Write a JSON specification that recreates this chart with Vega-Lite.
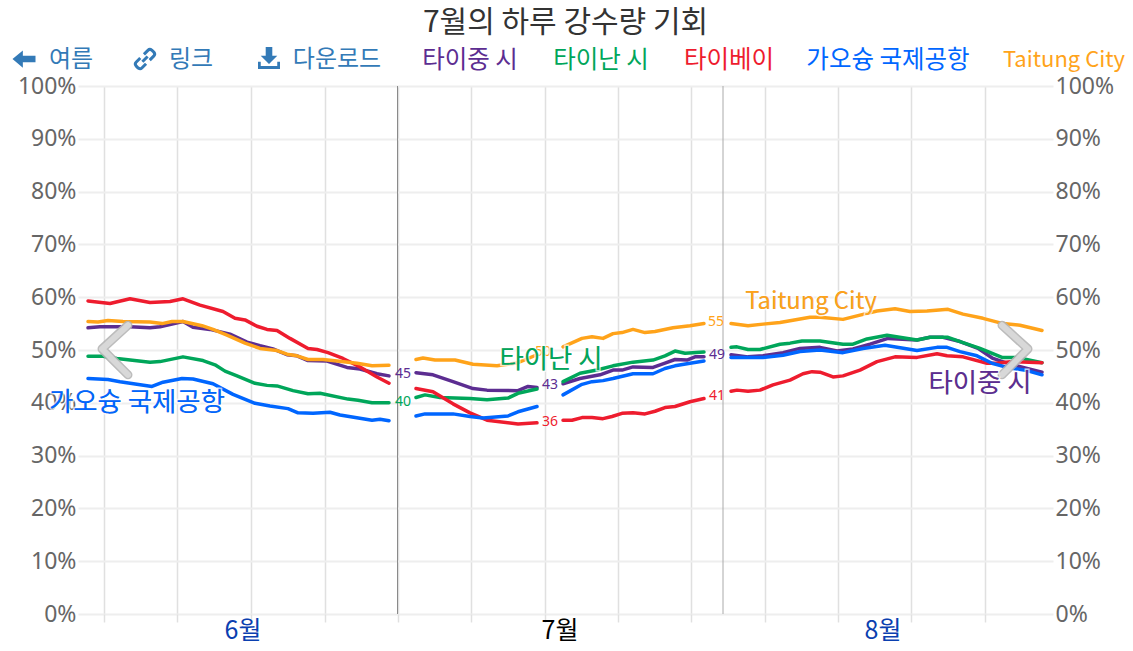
{"$schema":"https://vega.github.io/schema/vega-lite/v6.json","width":975,"height":528,"autosize":"none","padding":{"left":78,"top":86,"right":80,"bottom":37},"background":"white",
"title":{"text":"7월의 하루 강수량 기회","font":"Noto Sans CJK KR","fontSize":30,"fontWeight":"normal","color":"#333333","anchor":"middle","offset":5},
"config":{"view":{"stroke":null}},
"datasets":{
"series":[
{"c":"타이중 시","g":1,"d":1.0,"v":54.2},{"c":"타이중 시","g":1,"d":2.2,"v":54.4},{"c":"타이중 시","g":1,"d":5.2,"v":54.4},{"c":"타이중 시","g":1,"d":7.2,"v":54.2},{"c":"타이중 시","g":1,"d":8.2,"v":54.4},{"c":"타이중 시","g":1,"d":10.5,"v":55.4},{"c":"타이중 시","g":1,"d":11.5,"v":54.3},{"c":"타이중 시","g":1,"d":13.2,"v":53.9},{"c":"타이중 시","g":1,"d":15.2,"v":53.0},{"c":"타이중 시","g":1,"d":16.9,"v":51.5},{"c":"타이중 시","g":1,"d":18.2,"v":50.8},{"c":"타이중 시","g":1,"d":19.5,"v":50.2},{"c":"타이중 시","g":1,"d":20.9,"v":49.1},{"c":"타이중 시","g":1,"d":21.9,"v":48.9},{"c":"타이중 시","g":1,"d":23.0,"v":48.0},{"c":"타이중 시","g":1,"d":24.9,"v":47.9},{"c":"타이중 시","g":1,"d":26.9,"v":46.7},{"c":"타이중 시","g":1,"d":28.2,"v":46.4},{"c":"타이중 시","g":1,"d":29.9,"v":45.5},{"c":"타이중 시","g":1,"d":31.1,"v":45.1},
{"c":"타이중 시","g":2,"d":33.8,"v":45.7},{"c":"타이중 시","g":2,"d":35.5,"v":45.3},{"c":"타이중 시","g":2,"d":37.5,"v":44.0},{"c":"타이중 시","g":2,"d":39.5,"v":42.7},{"c":"타이중 시","g":2,"d":40.9,"v":42.4},{"c":"타이중 시","g":2,"d":44.0,"v":42.3},{"c":"타이중 시","g":2,"d":45.0,"v":43.1},{"c":"타이중 시","g":2,"d":45.9,"v":42.9},
{"c":"타이중 시","g":3,"d":48.5,"v":43.6},{"c":"타이중 시","g":3,"d":50.2,"v":44.6},{"c":"타이중 시","g":3,"d":52.2,"v":45.3},{"c":"타이중 시","g":3,"d":53.5,"v":46.2},{"c":"타이중 시","g":3,"d":54.4,"v":46.2},{"c":"타이중 시","g":3,"d":55.5,"v":46.8},{"c":"타이중 시","g":3,"d":57.5,"v":46.7},{"c":"타이중 시","g":3,"d":58.7,"v":47.5},{"c":"타이중 시","g":3,"d":59.7,"v":48.2},{"c":"타이중 시","g":3,"d":60.9,"v":48.1},{"c":"타이중 시","g":3,"d":61.7,"v":48.7},{"c":"타이중 시","g":3,"d":62.6,"v":48.7},
{"c":"타이중 시","g":4,"d":65.3,"v":49.1},{"c":"타이중 시","g":4,"d":67.0,"v":48.7},{"c":"타이중 시","g":4,"d":68.5,"v":48.9},{"c":"타이중 시","g":4,"d":70.5,"v":49.5},{"c":"타이중 시","g":4,"d":72.2,"v":50.3},{"c":"타이중 시","g":4,"d":74.2,"v":50.5},{"c":"타이중 시","g":4,"d":75.9,"v":49.8},{"c":"타이중 시","g":4,"d":77.5,"v":50.2},{"c":"타이중 시","g":4,"d":79.2,"v":51.1},{"c":"타이중 시","g":4,"d":81.0,"v":52.2},{"c":"타이중 시","g":4,"d":83.9,"v":51.9},{"c":"타이중 시","g":4,"d":85.2,"v":52.4},{"c":"타이중 시","g":4,"d":86.5,"v":52.4},{"c":"타이중 시","g":4,"d":88.2,"v":51.6},{"c":"타이중 시","g":4,"d":90.0,"v":50.3},{"c":"타이중 시","g":4,"d":91.5,"v":48.4},{"c":"타이중 시","g":4,"d":92.9,"v":47.5},{"c":"타이중 시","g":4,"d":94.9,"v":46.5},{"c":"타이중 시","g":4,"d":96.4,"v":45.8},

{"c":"타이난 시","g":1,"d":1.0,"v":48.8},{"c":"타이난 시","g":1,"d":2.5,"v":48.8},{"c":"타이난 시","g":1,"d":3.9,"v":48.4},{"c":"타이난 시","g":1,"d":7.2,"v":47.7},{"c":"타이난 시","g":1,"d":8.2,"v":47.8},{"c":"타이난 시","g":1,"d":10.5,"v":48.7},{"c":"타이난 시","g":1,"d":12.5,"v":48.0},{"c":"타이난 시","g":1,"d":13.7,"v":47.2},{"c":"타이난 시","g":1,"d":14.7,"v":46.0},{"c":"타이난 시","g":1,"d":15.9,"v":45.1},{"c":"타이난 시","g":1,"d":17.7,"v":43.7},{"c":"타이난 시","g":1,"d":18.9,"v":43.3},{"c":"타이난 시","g":1,"d":19.9,"v":43.2},{"c":"타이난 시","g":1,"d":21.5,"v":42.3},{"c":"타이난 시","g":1,"d":23.0,"v":41.7},{"c":"타이난 시","g":1,"d":24.2,"v":41.8},{"c":"타이난 시","g":1,"d":27.0,"v":40.7},{"c":"타이난 시","g":1,"d":28.0,"v":40.5},{"c":"타이난 시","g":1,"d":29.4,"v":40.0},{"c":"타이난 시","g":1,"d":31.1,"v":40.0},
{"c":"타이난 시","g":2,"d":33.8,"v":41.0},{"c":"타이난 시","g":2,"d":34.7,"v":41.5},{"c":"타이난 시","g":2,"d":36.2,"v":41.0},{"c":"타이난 시","g":2,"d":39.2,"v":40.8},{"c":"타이난 시","g":2,"d":40.9,"v":40.6},{"c":"타이난 시","g":2,"d":43.0,"v":40.9},{"c":"타이난 시","g":2,"d":44.0,"v":41.8},{"c":"타이난 시","g":2,"d":45.9,"v":42.6},
{"c":"타이난 시","g":3,"d":48.5,"v":44.0},{"c":"타이난 시","g":3,"d":50.2,"v":45.6},{"c":"타이난 시","g":3,"d":51.9,"v":46.2},{"c":"타이난 시","g":3,"d":53.5,"v":47.0},{"c":"타이난 시","g":3,"d":55.5,"v":47.7},{"c":"타이난 시","g":3,"d":57.5,"v":48.1},{"c":"타이난 시","g":3,"d":58.7,"v":48.9},{"c":"타이난 시","g":3,"d":59.7,"v":49.8},{"c":"타이난 시","g":3,"d":60.7,"v":49.4},{"c":"타이난 시","g":3,"d":62.6,"v":49.6},
{"c":"타이난 시","g":4,"d":65.3,"v":50.5},{"c":"타이난 시","g":4,"d":65.9,"v":50.6},{"c":"타이난 시","g":4,"d":67.0,"v":50.1},{"c":"타이난 시","g":4,"d":68.2,"v":50.1},{"c":"타이난 시","g":4,"d":70.2,"v":51.1},{"c":"타이난 시","g":4,"d":71.2,"v":51.3},{"c":"타이난 시","g":4,"d":72.4,"v":51.7},{"c":"타이난 시","g":4,"d":74.2,"v":51.7},{"c":"타이난 시","g":4,"d":76.5,"v":51.1},{"c":"타이난 시","g":4,"d":77.5,"v":51.1},{"c":"타이난 시","g":4,"d":78.9,"v":52.1},{"c":"타이난 시","g":4,"d":80.9,"v":52.8},{"c":"타이난 시","g":4,"d":83.9,"v":51.9},{"c":"타이난 시","g":4,"d":85.2,"v":52.4},{"c":"타이난 시","g":4,"d":87.0,"v":52.4},{"c":"타이난 시","g":4,"d":88.5,"v":51.4},{"c":"타이난 시","g":4,"d":90.2,"v":50.3},{"c":"타이난 시","g":4,"d":92.4,"v":48.6},{"c":"타이난 시","g":4,"d":93.9,"v":48.6},{"c":"타이난 시","g":4,"d":96.4,"v":47.6},

{"c":"타이베이","g":1,"d":1.0,"v":59.3},{"c":"타이베이","g":1,"d":3.2,"v":58.8},{"c":"타이베이","g":1,"d":5.2,"v":59.7},{"c":"타이베이","g":1,"d":7.2,"v":59.0},{"c":"타이베이","g":1,"d":9.2,"v":59.2},{"c":"타이베이","g":1,"d":10.5,"v":59.7},{"c":"타이베이","g":1,"d":12.2,"v":58.5},{"c":"타이베이","g":1,"d":14.5,"v":57.3},{"c":"타이베이","g":1,"d":15.7,"v":56.0},{"c":"타이베이","g":1,"d":16.7,"v":55.7},{"c":"타이베이","g":1,"d":17.9,"v":54.5},{"c":"타이베이","g":1,"d":18.9,"v":53.9},{"c":"타이베이","g":1,"d":19.9,"v":53.7},{"c":"타이베이","g":1,"d":21.2,"v":52.2},{"c":"타이베이","g":1,"d":23.0,"v":50.3},{"c":"타이베이","g":1,"d":23.9,"v":50.1},{"c":"타이베이","g":1,"d":25.0,"v":49.5},{"c":"타이베이","g":1,"d":26.5,"v":48.4},{"c":"타이베이","g":1,"d":28.2,"v":46.8},{"c":"타이베이","g":1,"d":29.9,"v":44.9},{"c":"타이베이","g":1,"d":31.1,"v":43.7},
{"c":"타이베이","g":2,"d":33.8,"v":42.7},{"c":"타이베이","g":2,"d":35.5,"v":42.1},{"c":"타이베이","g":2,"d":37.5,"v":39.8},{"c":"타이베이","g":2,"d":39.2,"v":38.1},{"c":"타이베이","g":2,"d":40.9,"v":36.7},{"c":"타이베이","g":2,"d":44.0,"v":36.0},{"c":"타이베이","g":2,"d":45.9,"v":36.2},
{"c":"타이베이","g":3,"d":48.5,"v":36.7},{"c":"타이베이","g":3,"d":49.4,"v":36.7},{"c":"타이베이","g":3,"d":50.4,"v":37.2},{"c":"타이베이","g":3,"d":51.4,"v":37.2},{"c":"타이베이","g":3,"d":52.5,"v":37.0},{"c":"타이베이","g":3,"d":53.4,"v":37.4},{"c":"타이베이","g":3,"d":54.4,"v":38.0},{"c":"타이베이","g":3,"d":55.5,"v":38.1},{"c":"타이베이","g":3,"d":56.7,"v":37.9},{"c":"타이베이","g":3,"d":57.7,"v":38.4},{"c":"타이베이","g":3,"d":58.7,"v":39.1},{"c":"타이베이","g":3,"d":59.7,"v":39.3},{"c":"타이베이","g":3,"d":61.2,"v":40.2},{"c":"타이베이","g":3,"d":62.6,"v":40.8},
{"c":"타이베이","g":4,"d":65.3,"v":42.2},{"c":"타이베이","g":4,"d":65.9,"v":42.4},{"c":"타이베이","g":4,"d":67.0,"v":42.2},{"c":"타이베이","g":4,"d":68.2,"v":42.4},{"c":"타이베이","g":4,"d":69.5,"v":43.4},{"c":"타이베이","g":4,"d":71.2,"v":44.3},{"c":"타이베이","g":4,"d":72.5,"v":45.5},{"c":"타이베이","g":4,"d":73.4,"v":45.9},{"c":"타이베이","g":4,"d":74.2,"v":45.8},{"c":"타이베이","g":4,"d":75.5,"v":44.9},{"c":"타이베이","g":4,"d":76.5,"v":45.1},{"c":"타이베이","g":4,"d":78.2,"v":46.2},{"c":"타이베이","g":4,"d":79.9,"v":47.8},{"c":"타이베이","g":4,"d":81.7,"v":48.7},{"c":"타이베이","g":4,"d":83.9,"v":48.6},{"c":"타이베이","g":4,"d":85.9,"v":49.3},{"c":"타이베이","g":4,"d":86.9,"v":48.9},{"c":"타이베이","g":4,"d":88.5,"v":48.7},{"c":"타이베이","g":4,"d":90.9,"v":47.5},{"c":"타이베이","g":4,"d":91.9,"v":47.5},{"c":"타이베이","g":4,"d":93.5,"v":47.8},{"c":"타이베이","g":4,"d":96.4,"v":47.6},

{"c":"가오슝 국제공항","g":1,"d":1.0,"v":44.6},{"c":"가오슝 국제공항","g":1,"d":3.0,"v":44.4},{"c":"가오슝 국제공항","g":1,"d":4.2,"v":44.0},{"c":"가오슝 국제공항","g":1,"d":7.4,"v":43.1},{"c":"가오슝 국제공항","g":1,"d":8.5,"v":43.9},{"c":"가오슝 국제공항","g":1,"d":10.4,"v":44.6},{"c":"가오슝 국제공항","g":1,"d":11.5,"v":44.5},{"c":"가오슝 국제공항","g":1,"d":13.5,"v":43.6},{"c":"가오슝 국제공항","g":1,"d":15.5,"v":41.6},{"c":"가오슝 국제공항","g":1,"d":17.7,"v":39.9},{"c":"가오슝 국제공항","g":1,"d":19.2,"v":39.4},{"c":"가오슝 국제공항","g":1,"d":21.0,"v":38.9},{"c":"가오슝 국제공항","g":1,"d":22.0,"v":38.1},{"c":"가오슝 국제공항","g":1,"d":23.5,"v":38.0},{"c":"가오슝 국제공항","g":1,"d":25.2,"v":38.2},{"c":"가오슝 국제공항","g":1,"d":26.2,"v":37.7},{"c":"가오슝 국제공항","g":1,"d":29.4,"v":36.7},{"c":"가오슝 국제공항","g":1,"d":30.2,"v":36.9},{"c":"가오슝 국제공항","g":1,"d":31.1,"v":36.6},
{"c":"가오슝 국제공항","g":2,"d":33.8,"v":37.5},{"c":"가오슝 국제공항","g":2,"d":34.7,"v":37.9},{"c":"가오슝 국제공항","g":2,"d":37.5,"v":37.9},{"c":"가오슝 국제공항","g":2,"d":39.2,"v":37.4},{"c":"가오슝 국제공항","g":2,"d":40.5,"v":37.1},{"c":"가오슝 국제공항","g":2,"d":43.0,"v":37.5},{"c":"가오슝 국제공항","g":2,"d":44.0,"v":38.3},{"c":"가오슝 국제공항","g":2,"d":45.9,"v":39.3},
{"c":"가오슝 국제공항","g":3,"d":48.5,"v":41.5},{"c":"가오슝 국제공항","g":3,"d":50.4,"v":43.5},{"c":"가오슝 국제공항","g":3,"d":51.4,"v":44.0},{"c":"가오슝 국제공항","g":3,"d":52.5,"v":44.2},{"c":"가오슝 국제공항","g":3,"d":53.5,"v":44.6},{"c":"가오슝 국제공항","g":3,"d":55.5,"v":45.5},{"c":"가오슝 국제공항","g":3,"d":57.5,"v":45.5},{"c":"가오슝 국제공항","g":3,"d":58.7,"v":46.5},{"c":"가오슝 국제공항","g":3,"d":59.7,"v":47.0},{"c":"가오슝 국제공항","g":3,"d":61.2,"v":47.5},{"c":"가오슝 국제공항","g":3,"d":62.6,"v":47.9},
{"c":"가오슝 국제공항","g":4,"d":65.3,"v":48.6},{"c":"가오슝 국제공항","g":4,"d":67.0,"v":48.6},{"c":"가오슝 국제공항","g":4,"d":68.5,"v":48.6},{"c":"가오슝 국제공항","g":4,"d":70.5,"v":49.0},{"c":"가오슝 국제공항","g":4,"d":72.2,"v":49.7},{"c":"가오슝 국제공항","g":4,"d":74.2,"v":50.0},{"c":"가오슝 국제공항","g":4,"d":76.5,"v":49.5},{"c":"가오슝 국제공항","g":4,"d":78.5,"v":50.3},{"c":"가오슝 국제공항","g":4,"d":80.7,"v":50.9},{"c":"가오슝 국제공항","g":4,"d":83.9,"v":49.9},{"c":"가오슝 국제공항","g":4,"d":85.9,"v":50.5},{"c":"가오슝 국제공항","g":4,"d":86.9,"v":50.5},{"c":"가오슝 국제공항","g":4,"d":88.2,"v":49.7},{"c":"가오슝 국제공항","g":4,"d":89.9,"v":48.9},{"c":"가오슝 국제공항","g":4,"d":91.4,"v":47.5},{"c":"가오슝 국제공항","g":4,"d":92.9,"v":46.7},{"c":"가오슝 국제공항","g":4,"d":94.9,"v":46.1},{"c":"가오슝 국제공항","g":4,"d":96.4,"v":45.3},

{"c":"Taitung City","g":1,"d":1.0,"v":55.4},{"c":"Taitung City","g":1,"d":2.0,"v":55.3},{"c":"Taitung City","g":1,"d":3.0,"v":55.6},{"c":"Taitung City","g":1,"d":4.5,"v":55.4},{"c":"Taitung City","g":1,"d":7.2,"v":55.3},{"c":"Taitung City","g":1,"d":8.4,"v":55.0},{"c":"Taitung City","g":1,"d":9.4,"v":55.4},{"c":"Taitung City","g":1,"d":10.5,"v":55.4},{"c":"Taitung City","g":1,"d":12.4,"v":54.6},{"c":"Taitung City","g":1,"d":13.5,"v":53.9},{"c":"Taitung City","g":1,"d":14.9,"v":52.8},{"c":"Taitung City","g":1,"d":16.7,"v":51.3},{"c":"Taitung City","g":1,"d":18.2,"v":50.3},{"c":"Taitung City","g":1,"d":19.9,"v":49.9},{"c":"Taitung City","g":1,"d":20.9,"v":49.2},{"c":"Taitung City","g":1,"d":21.9,"v":48.9},{"c":"Taitung City","g":1,"d":23.0,"v":48.2},{"c":"Taitung City","g":1,"d":24.5,"v":48.2},{"c":"Taitung City","g":1,"d":25.9,"v":47.9},{"c":"Taitung City","g":1,"d":27.9,"v":47.5},{"c":"Taitung City","g":1,"d":29.4,"v":47.0},{"c":"Taitung City","g":1,"d":31.1,"v":47.1},
{"c":"Taitung City","g":2,"d":33.8,"v":48.2},{"c":"Taitung City","g":2,"d":34.5,"v":48.5},{"c":"Taitung City","g":2,"d":35.7,"v":48.1},{"c":"Taitung City","g":2,"d":37.7,"v":48.1},{"c":"Taitung City","g":2,"d":39.5,"v":47.3},{"c":"Taitung City","g":2,"d":41.9,"v":47.0},{"c":"Taitung City","g":2,"d":44.0,"v":47.6},{"c":"Taitung City","g":2,"d":45.9,"v":49.1},
{"c":"Taitung City","g":3,"d":48.5,"v":50.6},{"c":"Taitung City","g":3,"d":50.4,"v":52.2},{"c":"Taitung City","g":3,"d":51.4,"v":52.5},{"c":"Taitung City","g":3,"d":52.5,"v":52.2},{"c":"Taitung City","g":3,"d":53.5,"v":53.1},{"c":"Taitung City","g":3,"d":54.4,"v":53.3},{"c":"Taitung City","g":3,"d":55.5,"v":53.9},{"c":"Taitung City","g":3,"d":56.7,"v":53.3},{"c":"Taitung City","g":3,"d":57.7,"v":53.5},{"c":"Taitung City","g":3,"d":59.5,"v":54.2},{"c":"Taitung City","g":3,"d":61.2,"v":54.6},{"c":"Taitung City","g":3,"d":62.6,"v":55.0},
{"c":"Taitung City","g":4,"d":65.3,"v":55.0},{"c":"Taitung City","g":4,"d":67.0,"v":54.6},{"c":"Taitung City","g":4,"d":68.5,"v":54.9},{"c":"Taitung City","g":4,"d":70.2,"v":55.2},{"c":"Taitung City","g":4,"d":73.2,"v":56.2},{"c":"Taitung City","g":4,"d":74.2,"v":56.2},{"c":"Taitung City","g":4,"d":76.5,"v":55.8},{"c":"Taitung City","g":4,"d":78.2,"v":56.6},{"c":"Taitung City","g":4,"d":79.9,"v":57.4},{"c":"Taitung City","g":4,"d":81.7,"v":57.8},{"c":"Taitung City","g":4,"d":83.2,"v":57.3},{"c":"Taitung City","g":4,"d":84.9,"v":57.4},{"c":"Taitung City","g":4,"d":87.0,"v":57.7},{"c":"Taitung City","g":4,"d":88.5,"v":56.8},{"c":"Taitung City","g":4,"d":90.5,"v":56.0},{"c":"Taitung City","g":4,"d":92.5,"v":55.0},{"c":"Taitung City","g":4,"d":94.2,"v":54.7},{"c":"Taitung City","g":4,"d":96.4,"v":53.7}
],
"cityLabels":[{"c":"타이중 시","d":39.2,"v":104.8,"k":"head"},{"c":"타이난 시","d":52.3,"v":104.8,"k":"head"},{"c":"타이베이","d":65.1,"v":104.8,"k":"head"},{"c":"가오슝 국제공항","d":81.0,"v":104.8,"k":"head"},{"c":"Taitung City","d":98.6,"v":105.0,"k":"head"},
{"c":"가오슝 국제공항","d":5.9,"v":40.0,"k":"inline"},{"c":"타이난 시","d":47.3,"v":48.2,"k":"inline"},{"c":"Taitung City","d":73.3,"v":59.1,"k":"inline"},{"c":"타이중 시","d":90.2,"v":43.6,"k":"inline"}],
"ends":[{"c":"타이중 시","d":32.5,"v":45.5,"n":45},{"c":"타이난 시","d":32.5,"v":40.2,"n":40},{"c":"타이중 시","d":47.2,"v":43.4,"n":43},{"c":"타이베이","d":47.2,"v":36.4,"n":36},{"c":"Taitung City","d":46.5,"v":49.6,"n":50},{"c":"Taitung City","d":63.8,"v":55.3,"n":55},{"c":"타이중 시","d":63.9,"v":49.1,"n":49},{"c":"타이베이","d":63.9,"v":41.3,"n":41}],
"nav":[{"t":"여름","d":-0.7,"v":104.9},{"t":"링크","d":11.3,"v":104.9},{"t":"다운로드","d":25.9,"v":104.9}],
"months":[{"t":"6월","d":16.5,"v":-3.3},{"t":"7월","d":48.2,"v":-3.3},{"t":"8월","d":80.5,"v":-3.3}],
"chev":[{"s":"L","o":1,"d":5.0,"v":54.7},{"s":"L","o":2,"d":2.4,"v":50.2},{"s":"L","o":3,"d":5.0,"v":45.3},{"s":"R","o":1,"d":92.4,"v":54.7},{"s":"R","o":2,"d":95.0,"v":50.2},{"s":"R","o":3,"d":92.4,"v":45.3}],
"seps":[{"d":31.95,"k":"a","lo":0,"hi":100},{"d":64.5,"k":"b","lo":0,"hi":100}]
},
"encoding":{
"x":{"field":"d","type":"quantitative","scale":{"domain":[0,97.5],"nice":false,"zero":false},"title":null,"axis":{"values":[2.6,9.95,17.3,24.65,31.95,39.3,46.65,54,61.3,68.65,76,83.3,90.65],"labels":false,"domain":false,"grid":true,"gridColor":"#e0e0e0","gridWidth":1.5,"tickColor":"#e0e0e0","tickWidth":1.5,"tickSize":8,"zindex":0}},
"y":{"field":"v","type":"quantitative","scale":{"domain":[0,100],"nice":false},"title":null,"axis":null}
},
"layer":[
{"data":{"name":"series"},"mark":{"type":"line","opacity":0},
"encoding":{"y":{"field":"v","type":"quantitative","title":null,"scale":{"domain":[0,100],"nice":false},"axis":{"orient":"left","values":[0,10,20,30,40,50,60,70,80,90,100],"labelExpr":"datum.value+'%'","labelFont":"Noto Sans","labelFontSize":23,"labelColor":"#666666","labelPadding":2,"ticks":false,"domain":false,"grid":true,"gridColor":"#eeeeee","gridWidth":2,"zindex":0}}}},
{"data":{"name":"series"},"mark":{"type":"line","opacity":0},
"encoding":{"y":{"field":"v","type":"quantitative","title":null,"scale":{"domain":[0,100],"nice":false},"axis":{"orient":"right","values":[0,10,20,30,40,50,60,70,80,90,100],"labelExpr":"datum.value+'%'","labelFont":"Noto Sans","labelFontSize":23,"labelColor":"#666666","labelPadding":2,"ticks":false,"domain":false,"grid":false}}}},
{"data":{"name":"seps"},"mark":{"type":"rule","strokeWidth":1},
"encoding":{"y":{"field":"lo","type":"quantitative","title":null,"scale":{"domain":[0,100],"nice":false},"axis":null},"y2":{"field":"hi"},"color":{"field":"k","type":"nominal","legend":null,"scale":{"domain":["a","b"],"range":["#8a8a8a","#aaaaaa"]}}}},
{"data":{"name":"series"},"mark":{"type":"line","strokeWidth":3.5,"strokeJoin":"round","strokeCap":"round"},
"encoding":{"detail":{"field":"g"},"color":{"field":"c","type":"nominal","legend":null,"sort":null,"scale":{"domain":["타이중 시","타이난 시","타이베이","가오슝 국제공항","Taitung City"],"range":["#5c2d91","#00a65a","#ee1c2e","#0066ff","#ffa31a"]}}}},
{"data":{"name":"chev"},"mark":{"type":"line","stroke":"#b5b5b5","strokeWidth":9,"strokeCap":"round","strokeJoin":"round","opacity":0.9},
"encoding":{"detail":{"field":"s"},"order":{"field":"o"}}},
{"data":{"name":"chev"},"mark":{"type":"line","stroke":"#d9d9d9","strokeWidth":6,"strokeCap":"round","strokeJoin":"round","opacity":0.95},
"encoding":{"detail":{"field":"s"},"order":{"field":"o"}}},
{"data":{"name":"ends"},"mark":{"type":"text","font":"Noto Sans","fontSize":14,"align":"center","baseline":"middle"},
"encoding":{"text":{"field":"n"},"color":{"field":"c","type":"nominal","legend":null,"scale":{"domain":["타이중 시","타이난 시","타이베이","가오슝 국제공항","Taitung City"],"range":["#5c2d91","#00a65a","#ee1c2e","#0066ff","#ffa31a"]}}}},
{"data":{"name":"cityLabels"},"transform":[{"filter":"datum.k=='inline'"}],"mark":{"type":"text","font":"Noto Sans CJK KR","align":"center","baseline":"middle","stroke":"white","strokeWidth":3,"strokeOpacity":0.7},
"encoding":{"text":{"field":"c"},"size":{"condition":{"test":"datum.c=='Taitung City'","value":23.7},"value":26.4}}},
{"data":{"name":"cityLabels"},"mark":{"type":"text","font":"Noto Sans CJK KR","align":"center","baseline":"middle"},
"encoding":{"text":{"field":"c"},"size":{"condition":[{"test":"datum.c=='Taitung City'&&datum.k=='head'","value":22},{"test":"datum.c=='Taitung City'","value":23.7},{"test":"datum.k=='inline'","value":26.4}],"value":24.5},"color":{"field":"c","type":"nominal","legend":null,"scale":{"domain":["타이중 시","타이난 시","타이베이","가오슝 국제공항","Taitung City"],"range":["#5c2d91","#00a65a","#ee1c2e","#0066ff","#ffa31a"]}}}},
{"data":{"name":"nav"},"mark":{"type":"text","font":"Noto Sans CJK KR","fontSize":24,"align":"center","baseline":"middle","color":"#337ab7"},
"encoding":{"text":{"field":"t"}}},
{"data":{"values":[{"d":-5.4,"v":105.1}]},"mark":{"type":"point","filled":true,"opacity":1,"color":"#337ab7","size":529,"shape":"M-1 0 L-0.1 -0.75 L-0.1 -0.28 L1 -0.28 L1 0.28 L-0.1 0.28 L-0.1 0.75 Z"}},
{"data":{"values":[{"d":6.7,"v":105.1}]},"mark":{"type":"point","filled":false,"opacity":1,"strokeWidth":3,"color":"#337ab7","size":441,"shape":"M-0.1 -0.45 L0.3 -0.85 Q0.45 -1 0.65 -0.85 L0.85 -0.65 Q1 -0.45 0.85 -0.3 L0.45 0.1 M0.1 0.45 L-0.3 0.85 Q-0.45 1 -0.65 0.85 L-0.85 0.65 Q-1 0.45 -0.85 0.3 L-0.45 -0.1 M-0.25 0.25 L0.25 -0.25"}},
{"data":{"values":[{"d":19.1,"v":105.3}]},"mark":{"type":"point","filled":true,"opacity":1,"color":"#337ab7","size":484,"shape":"M-0.3 -1 L0.3 -1 L0.3 -0.2 L0.75 -0.2 L0 0.55 L-0.75 -0.2 L-0.3 -0.2 Z M-1 0.35 L-0.75 0.35 L-0.75 0.72 L0.75 0.72 L0.75 0.35 L1 0.35 L1 1 L-1 1 Z"}},
{"data":{"name":"months"},"mark":{"type":"text","font":"Noto Sans CJK KR","fontSize":25,"align":"center","baseline":"middle"},
"encoding":{"text":{"field":"t"},"color":{"field":"t","type":"nominal","legend":null,"scale":{"domain":["6월","7월","8월"],"range":["#0b3fb0","#000000","#0b3fb0"]}}}}
],
"resolve":{"axis":{"y":"independent"},"scale":{"color":"independent"}}
}
